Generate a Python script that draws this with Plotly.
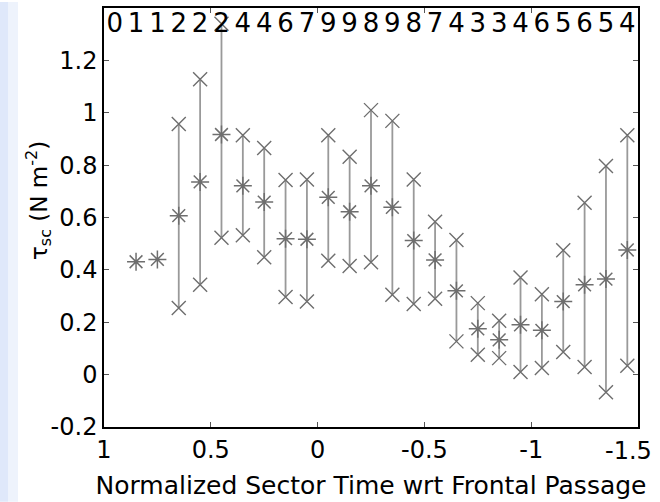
import plotly.graph_objects as go

# sector centres (normalized time wrt frontal passage)
x_pos = [0.95, 0.85, 0.75, 0.65, 0.55, 0.45, 0.35, 0.25, 0.15, 0.05,
         -0.05, -0.15, -0.25, -0.35, -0.45, -0.55, -0.65, -0.75, -0.85, -0.95,
         -1.05, -1.15, -1.25, -1.35, -1.45]
counts = [0, 1, 1, 2, 2, 2, 4, 4, 6, 7,
          9, 9, 8, 9, 8, 7, 4, 3, 3, 4, 6, 5, 6, 5, 4]
mean_val = [None, 0.431, 0.44, 0.607, 0.736, 0.917, 0.721, 0.659, 0.519, 0.517,
            0.677, 0.622, 0.721, 0.639, 0.512, 0.438, 0.32, 0.175, 0.133, 0.19,
            0.169, 0.279, 0.343, 0.365, 0.476]
upper_val = [None, None, None, 0.957, 1.128, 1.34, 0.914, 0.865, 0.743, 0.745,
             0.914, 0.832, 1.01, 0.969, 0.745, 0.584, 0.514, 0.273, 0.206, 0.371,
             0.307, 0.475, 0.656, 0.797, 0.914]
lower_val = [None, None, None, 0.254, 0.343, 0.523, 0.532, 0.448, 0.296, 0.279,
             0.435, 0.415, 0.429, 0.305, 0.27, 0.29, 0.127, 0.076, 0.063, 0.01,
             0.025, 0.086, 0.029, -0.067, 0.034]

x_ticks = [1, 0.5, 0, -0.5, -1, -1.5]
x_ticklabels = ["1", "0.5", "0", "-0.5", "-1", "-1.5"]
y_ticks = [-0.2, 0, 0.2, 0.4, 0.6, 0.8, 1.0, 1.2]
y_ticklabels = ["-0.2", "0", "0.2", "0.4", "0.6", "0.8", "1", "1.2"]

GRAY = "#6e6e6e"
FONT = "DejaVu Sans, Arial, sans-serif"

fig = go.Figure()

# zero lines
fig.add_hline(y=0, line=dict(color="#777777", width=1.5), layer="below")
fig.add_vline(x=0, line=dict(color="#777777", width=1.5), layer="below")

# vertical range lines
lx, ly = [], []
for xv, lo, hi in zip(x_pos, lower_val, upper_val):
    if lo is None or hi is None:
        continue
    lx += [xv, xv, None]
    ly += [lo, hi, None]
fig.add_trace(go.Scatter(x=lx, y=ly, mode="lines",
                         line=dict(color="#999999", width=1.8),
                         hoverinfo="skip", showlegend=False))

# upper/lower x markers
ex = [xv for xv, v in zip(x_pos, upper_val) if v is not None] + \
     [xv for xv, v in zip(x_pos, lower_val) if v is not None]
ey = [v for v in upper_val if v is not None] + [v for v in lower_val if v is not None]
fig.add_trace(go.Scatter(x=ex, y=ey, mode="markers",
                         marker=dict(symbol="x-thin-open", size=14, color=GRAY,
                                     line=dict(color=GRAY, width=1.4)),
                         showlegend=False))

# mean asterisks
mx = [xv for xv, v in zip(x_pos, mean_val) if v is not None]
my = [v for v in mean_val if v is not None]
fig.add_trace(go.Scatter(x=mx, y=my, mode="markers",
                         marker=dict(symbol="asterisk-open", size=15, color=GRAY,
                                     line=dict(color=GRAY, width=1.5)),
                         showlegend=False))

# counts along the top
fig.add_trace(go.Scatter(x=x_pos, y=[1.333] * len(x_pos), mode="text",
                         text=[str(c) for c in counts],
                         textfont=dict(family=FONT, size=26, color="black"),
                         showlegend=False, hoverinfo="skip"))

# last x tick label would overflow the page edge: draw it as an annotation
shown_ticktext = x_ticklabels[:-1] + [""]
annotations = [
    dict(x=x_ticks[-1], y=0, xref="x", yref="paper", yanchor="top",
         xanchor="right", xshift=16, yshift=-8, showarrow=False,
         text=x_ticklabels[-1], font=dict(family=FONT, size=24, color="black")),
    dict(x=-66 / 534, y=(427 - 200) / 421, xref="paper", yref="paper",
         xanchor="center", yanchor="middle", textangle=-90, showarrow=False,
         text="τ<sub>sc</sub> (N m<sup>-2</sup>)",
         font=dict(family=FONT, size=23, color="black")),
]

fig.update_layout(
    width=660, height=502,
    margin=dict(l=104, r=22, t=6, b=75),
    paper_bgcolor="white", plot_bgcolor="white",
    font=dict(family=FONT, size=24, color="black"),
    xaxis=dict(range=[1, -1.5], tickvals=x_ticks, ticktext=shown_ticktext,
               showgrid=False, zeroline=False, showline=True, linecolor="black",
               linewidth=1.5, mirror="ticks", ticks="inside", ticklen=5,
               tickcolor="#555", tickfont=dict(size=24),
               title=dict(text="Normalized Sector Time wrt Frontal Passage",
                          font=dict(size=25), standoff=14)),
    yaxis=dict(range=[-0.2, 1.4], tickvals=y_ticks, ticktext=y_ticklabels,
               showgrid=False, zeroline=False, showline=True, linecolor="black",
               linewidth=1.5, mirror="ticks", ticks="inside", ticklen=5,
               tickcolor="#555", tickfont=dict(size=24)),
    annotations=annotations,
    shapes=[dict(type="rect", xref="paper", yref="paper",
                 x0=-104 / 534, x1=-96 / 534, y0=-75 / 421, y1=427 / 421,
                 fillcolor="#dfe8fa", line=dict(width=0), layer="below"),
            dict(type="rect", xref="paper", yref="paper",
                 x0=-96 / 534, x1=-86 / 534, y0=-75 / 421, y1=427 / 421,
                 fillcolor="#eef3fc", line=dict(width=0), layer="below")],
)

fig.write_html("out.html")
